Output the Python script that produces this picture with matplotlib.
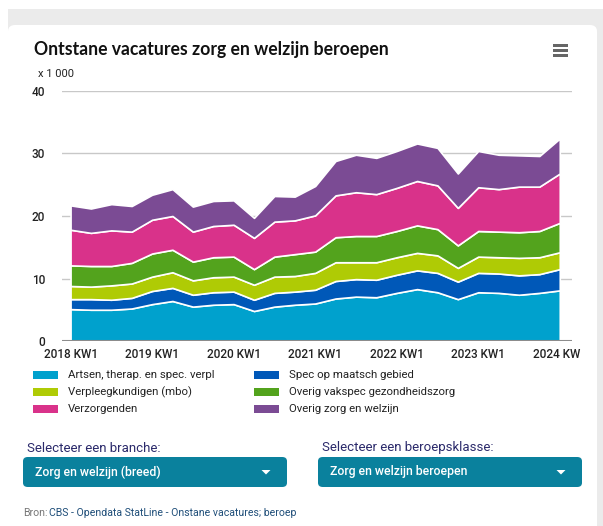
import numpy as np
import matplotlib as mpl
mpl.use('Agg')
import matplotlib.pyplot as plt
from matplotlib.patches import FancyBboxPatch, Rectangle, Polygon
from matplotlib.transforms import Bbox, TransformedBbox

# quarters 2018 KW1 .. 2024 KW1
quarters = ['2018 KW1', '2018 KW2', '2018 KW3', '2018 KW4',
            '2019 KW1', '2019 KW2', '2019 KW3', '2019 KW4',
            '2020 KW1', '2020 KW2', '2020 KW3', '2020 KW4',
            '2021 KW1', '2021 KW2', '2021 KW3', '2021 KW4',
            '2022 KW1', '2022 KW2', '2022 KW3', '2022 KW4',
            '2023 KW1', '2023 KW2', '2023 KW3', '2023 KW4',
            '2024 KW1']
tick_labels = ['2018 KW1', '2019 KW1', '2020 KW1', '2021 KW1', '2022 KW1', '2023 KW1', '2024 KW1']

# x 1 000 vacatures
artsen = [5.1, 5.0, 5.0, 5.2, 5.9, 6.4, 5.5, 5.8, 5.9, 4.8, 5.5, 5.8, 6.0,
          6.8, 7.1, 7.0, 7.7, 8.3, 7.8, 6.7, 7.8, 7.7, 7.4, 7.7, 8.1]
spec_maatsch = [1.6, 1.7, 1.6, 1.7, 2.1, 2.1, 1.9, 2.0, 2.0, 1.8, 2.2, 2.1, 2.2,
                2.8, 2.8, 2.8, 2.9, 3.0, 3.1, 2.8, 3.1, 3.1, 3.1, 3.0, 3.4]
verpleeg_mbo = [2.1, 2.0, 2.3, 2.3, 2.3, 2.5, 2.3, 2.4, 2.4, 2.4, 2.6, 2.5, 2.7,
                3.0, 2.7, 2.8, 2.8, 2.8, 2.8, 2.2, 2.6, 2.6, 2.8, 2.7, 2.7]
overig_vakspec = [3.3, 3.3, 3.1, 3.3, 3.7, 3.6, 3.0, 3.2, 3.2, 2.5, 3.2, 3.5, 3.4,
                  4.0, 4.2, 4.2, 4.2, 4.4, 4.2, 3.6, 4.1, 4.1, 4.1, 4.2, 4.7]
verzorgenden = [5.7, 5.3, 5.7, 5.0, 5.4, 5.4, 4.8, 5.0, 5.1, 5.0, 5.6, 5.4, 5.8,
                6.7, 7.0, 6.7, 6.9, 7.1, 7.0, 6.0, 7.0, 6.8, 7.3, 7.1, 7.9]
overig_zorg = [3.9, 3.9, 4.2, 4.1, 4.0, 4.3, 4.0, 4.0, 3.9, 3.2, 4.1, 3.8, 4.7,
               5.5, 6.0, 5.8, 5.9, 6.0, 6.0, 5.5, 5.8, 5.5, 5.0, 4.9, 5.6]

labels = ['Artsen, therap. en spec. verpl', 'Spec op maatsch gebied',
          'Verpleegkundigen (mbo)', 'Overig vakspec gezondheidszorg',
          'Verzorgenden', 'Overig zorg en welzijn']
colors = ['#00a1cd', '#0058b8', '#afcb05', '#53a31d', '#d9328a', '#7b4b94']

plt.rcParams['font.family'] = ['Roboto', 'DejaVu Sans']

W, H = 603, 526
fig = plt.figure(figsize=(W/100, H/100), dpi=100)

def fx(px):
    return px / W

def fy(py):
    return 1 - py / H

# grey page + white card
fig.patches.append(Rectangle((fx(8), 0), 1 - fx(8), fy(9), transform=fig.transFigure,
                             facecolor='#ebebeb', edgecolor='none', zorder=0))
fig.patches.append(FancyBboxPatch((fx(8), -0.05), fx(597) - fx(8), fy(25) + 0.05,
                                  boxstyle='round,pad=0,rounding_size=0.012',
                                  transform=fig.transFigure, facecolor='white',
                                  edgecolor='none', zorder=0.5))

ax = fig.add_axes([fx(62), fy(341), fx(572) - fx(62), fy(91) - fy(341)])
ax.set_zorder(2)
ax.patch.set_alpha(0)
x = np.arange(len(quarters))
ys = [artsen, spec_maatsch, verpleeg_mbo, overig_vakspec, verzorgenden, overig_zorg]
ax.stackplot(x, ys, colors=colors, edgecolor='white', linewidth=1.2, zorder=3)

ax.set_xlim(-0.42, 24.6)
ax.set_ylim(0, 40)
ax.set_yticks([0, 10, 20, 30, 40])
ax.set_yticklabels(['0', '10', '20', '30', '40'])
ax.set_xticks([quarters.index(t) for t in tick_labels])
ax.set_xticklabels(tick_labels)
for s in ax.spines.values():
    s.set_visible(False)
ax.grid(axis='y', color='#c8c8c8', linewidth=1, zorder=1)
ax.axhline(0, color='#8c8c8c', linewidth=1.5, zorder=4)
ax.tick_params(axis='both', length=0, labelsize=8.5, colors='#222222')
ax.tick_params(axis='y', pad=12)
ax.tick_params(axis='x', pad=5)
for lab in ax.get_yticklabels():
    lab.set_fontweight('medium')
for lab in ax.get_xticklabels():
    lab.set_fontweight('medium')
# the last label is cut off by the chart container
clip = TransformedBbox(Bbox([[0, 0], [fx(581), 1]]), fig.transFigure)
last = ax.get_xticklabels()[-1]
last.set_clip_box(clip)
last.set_clip_on(True)

# title, unit, menu icon
fig.text(fx(34), fy(49), 'Ontstane vacatures zorg en welzijn beroepen', fontsize=12.7,
         fontweight='bold', color='#111111', va='center', family=['Lato', 'DejaVu Sans'])
fig.text(fx(38), fy(74), 'x 1 000', fontsize=8, color='#222222', va='center')
for yy in (45.5, 50.5, 55.5):
    fig.patches.append(Rectangle((fx(553), fy(yy + 1.3)), fx(15), 2.6 / H,
                                 transform=fig.transFigure, facecolor='#666666',
                                 edgecolor='none', zorder=2))

# legend
leg_pos = [(33, 375), (254, 375), (33, 392), (254, 392), (33, 409), (254, 409)]
for (lx, ly), lab, col in zip(leg_pos, labels, colors):
    fig.patches.append(Rectangle((fx(lx), fy(ly + 4)), fx(25), 8 / H,
                                 transform=fig.transFigure, facecolor=col,
                                 edgecolor='none', zorder=2))
    fig.text(fx(lx + 35), fy(ly), lab, fontsize=8.2, color='#222222', va='center')

# dropdowns
sel_txt = ['Selecteer een branche:', 'Selecteer een beroepsklasse:']
box_txt = ['Zorg en welzijn (breed)', 'Zorg en welzijn beroepen']
box_x = [23, 318]
for bx, st, bt in zip(box_x, sel_txt, box_txt):
    fig.text(fx(bx + 4), fy(448), st, fontsize=9.5, color='#2b2a6b', va='center')
    fig.patches.append(FancyBboxPatch((fx(bx), fy(487)), fx(264), 30 / H,
                                      boxstyle='round,pad=0,rounding_size=0.008',
                                      transform=fig.transFigure, facecolor='#0a819d',
                                      edgecolor='none', zorder=2))
    fig.text(fx(bx + 12), fy(472), bt, fontsize=8.8, color='white', va='center',
             fontweight='medium', zorder=3)
    ax_c = bx + 243
    fig.patches.append(Polygon([(fx(ax_c - 4.5), fy(470)), (fx(ax_c + 4.5), fy(470)),
                                (fx(ax_c), fy(474.5))], closed=True,
                               transform=fig.transFigure, facecolor='white',
                               edgecolor='none', zorder=3))

# source
fig.text(fx(23), fy(513), 'Bron:', fontsize=7.6, color='#777777', va='center')
fig.text(fx(49), fy(513), 'CBS - Opendata StatLine - Onstane vacatures; beroep', fontsize=7.6,
         color='#1f4e79', va='center')

fig.savefig('out.png', dpi=100)
